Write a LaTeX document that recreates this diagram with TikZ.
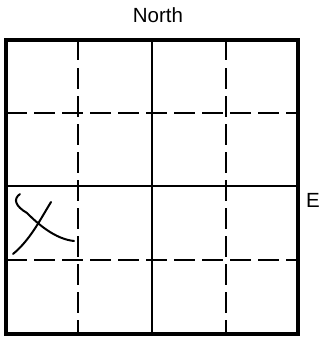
\documentclass[tikz,border=0pt]{standalone}
\usepackage{fontspec}
\setmainfont{Liberation Sans}
\begin{document}
\begin{tikzpicture}[x=1pt,y=-1pt,
  solidline/.style={line width=2.6pt},
  dashline/.style={line width=2.8pt,dash pattern=on 20.5pt off 7.5pt},
  border/.style={line width=3.2pt},
  pen/.style={line width=2pt,line cap=round,line join=round},
  lab/.style={font=\fontsize{20.5}{22}\selectfont,inner sep=0pt}]
\useasboundingbox (0,0) rectangle (322,337);
\coordinate (tl) at (6,40);
\coordinate (br) at (298,334);
% dashed lines
\coordinate (v1t) at (78,40); \coordinate (v1b) at (78,334);
\coordinate (v3t) at (226,40); \coordinate (v3b) at (226,334);
\coordinate (h1l) at (6,113); \coordinate (h1r) at (298,113);
\coordinate (h3l) at (6,260); \coordinate (h3r) at (298,260);
\draw[dashline] (v1t) -- (v1b);
\draw[dashline] (v3t) -- (v3b);
\draw[dashline] (h1l) -- (h1r);
\draw[dashline] (h3l) -- (h3r);
% solid middle lines
\coordinate (v2t) at (152,40); \coordinate (v2b) at (152,334);
\coordinate (h2l) at (6,186); \coordinate (h2r) at (298,186);
\draw[solidline] (v2t) -- (v2b);
\draw[solidline] (h2l) -- (h2r);
% border
\draw[border] (tl) rectangle (br);
% labels
\node[lab] (north) at (158,15) {North};
\node[lab] (east) at (313,200) {E};
% handwritten X
\draw[pen] (20,194) .. controls (13,199) and (15,206) .. (27,213)
  .. controls (38,224) and (55,239) .. (74,241);
\draw[pen] (51,202) .. controls (40,220) and (30,240) .. (13,254);
\end{tikzpicture}
\end{document}
